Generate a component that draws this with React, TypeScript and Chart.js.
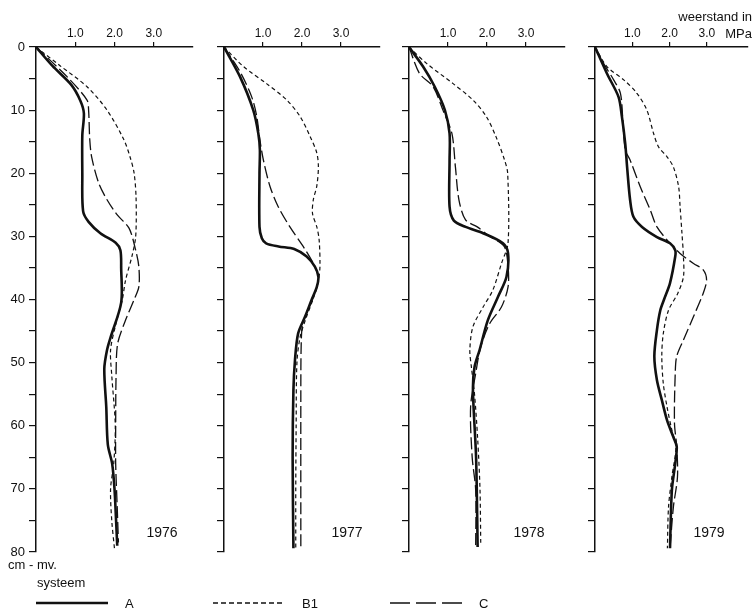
import React, { useEffect, useRef } from 'react';
import { Chart, registerables } from 'chart.js';

Chart.register(...registerables);

// ---------- data (depth in cm below surface, resistance in MPa) ----------
// 1976
const depth1976A = [0, 3, 6, 8.5, 10.5, 14, 20, 26, 27.7, 29.5, 31, 32.2, 35, 40.5, 46, 48, 51, 57, 63, 66, 70, 75, 79];
const mpa1976A = [0, 0.42, 0.9, 1.13, 1.22, 1.18, 1.18, 1.2, 1.34, 1.64, 2.03, 2.15, 2.17, 2.17, 1.9, 1.81, 1.74, 1.79, 1.83, 1.94, 2.0, 2.04, 2.07];
const depth1976B1 = [0, 3, 6.3, 10, 14.7, 17.5, 20, 24, 30, 33, 37, 40, 44, 48, 52, 60, 66, 70, 75, 79.5];
const mpa1976B1 = [0, 0.62, 1.3, 1.81, 2.24, 2.4, 2.5, 2.55, 2.54, 2.45, 2.28, 2.2, 2.03, 1.9, 1.93, 2.02, 1.98, 1.9, 1.93, 2.0];
const depth1976C = [0, 4.7, 8.4, 10, 14.7, 17.5, 21.6, 24.2, 26.6, 28.7, 32.2, 34.8, 38, 40, 43.3, 47, 52, 60, 66, 73, 78.5];
const mpa1976C = [0, 0.79, 1.3, 1.34, 1.37, 1.42, 1.6, 1.81, 2.07, 2.37, 2.54, 2.62, 2.62, 2.5, 2.28, 2.08, 2.04, 2.03, 2.03, 2.07, 2.1];

// 1977
const depth1977A = [0, 4.7, 10, 13.7, 16.3, 20, 28.5, 30.3, 31.1, 31.6, 32, 33.2, 34.8, 36.4, 38, 40, 42.7, 45.4, 49.6, 54.4, 65, 79.4];
const mpa1977A = [0, 0.41, 0.75, 0.88, 0.92, 0.91, 0.91, 0.97, 1.08, 1.4, 1.8, 2.12, 2.33, 2.42, 2.38, 2.25, 2.08, 1.9, 1.82, 1.78, 1.76, 1.78];
const depth1977B1 = [0, 3.1, 5.8, 8.4, 11, 14.2, 16.8, 19, 22, 24.2, 26.4, 28.5, 30.6, 34.8, 37, 40, 43, 46, 50, 60, 70, 79.4];
const mpa1977B1 = [0, 0.5, 1.09, 1.61, 1.95, 2.21, 2.38, 2.42, 2.38, 2.29, 2.27, 2.38, 2.44, 2.46, 2.42, 2.28, 2.1, 1.95, 1.87, 1.85, 1.84, 1.84];
const depth1977C = [0, 3.9, 7.9, 11, 14.7, 17.9, 22.1, 25.3, 28.5, 31.6, 34.3, 36.4, 38.5, 41, 43.8, 47, 55, 79.4];
const mpa1977C = [0, 0.41, 0.71, 0.84, 0.92, 1.01, 1.18, 1.39, 1.69, 2.03, 2.29, 2.42, 2.36, 2.2, 2.02, 1.98, 1.97, 1.97];

// 1978
const depth1978A = [0, 3.1, 6.3, 10, 13.7, 18, 25.3, 27.5, 28.5, 29.5, 31.1, 32.7, 36.4, 39.6, 43.3, 48, 50.7, 54.4, 65, 79.2];
const mpa1978A = [0, 0.36, 0.66, 0.92, 1.04, 1.04, 1.04, 1.15, 1.45, 1.9, 2.41, 2.54, 2.5, 2.28, 2.02, 1.81, 1.68, 1.64, 1.72, 1.76];
const depth1978B1 = [0, 2.6, 5.8, 8.4, 11, 14.2, 17.9, 20, 31, 34.3, 38.5, 41.2, 44.3, 48, 50.7, 55, 62, 70, 79];
const mpa1978B1 = [0, 0.45, 1.13, 1.64, 1.98, 2.23, 2.45, 2.53, 2.54, 2.37, 2.15, 1.9, 1.64, 1.56, 1.6, 1.68, 1.76, 1.82, 1.84];
const depth1978C = [0, 4.2, 6.3, 10, 13.7, 19, 24.2, 27.4, 28.5, 29.8, 31.6, 34.8, 38, 41.2, 43.8, 47.5, 51.7, 57, 65, 70.2, 79.2];
const mpa1978C = [0, 0.27, 0.62, 0.87, 1.1, 1.19, 1.28, 1.45, 1.75, 2.02, 2.44, 2.54, 2.54, 2.37, 2.07, 1.84, 1.71, 1.58, 1.62, 1.71, 1.71];

// 1979
const depth1979A = [0, 4.2, 7.9, 11, 15.3, 19, 24.2, 26.9, 28.5, 30.1, 31.1, 32.2, 33.2, 37.4, 40, 41.7, 44.8, 49, 52.8, 55.9, 59.1, 61.8, 63.3, 66, 70.2, 79.4];
const mpa1979A = [0, 0.32, 0.63, 0.72, 0.81, 0.86, 0.94, 1.03, 1.26, 1.66, 2.01, 2.15, 2.15, 2.01, 1.85, 1.75, 1.66, 1.59, 1.66, 1.79, 1.93, 2.1, 2.19, 2.15, 2.06, 2.01];
const depth1979B1 = [0, 3.1, 5.2, 7.3, 10, 13.7, 15.8, 17.4, 19, 22.1, 25.3, 29.5, 33.2, 36.4, 39, 41.7, 45.4, 49, 53.3, 57, 60.7, 63.3, 68.1, 72.9, 79.4];
const mpa1979B1 = [0, 0.32, 0.77, 1.12, 1.39, 1.57, 1.7, 1.93, 2.1, 2.24, 2.28, 2.33, 2.37, 2.37, 2.22, 1.97, 1.83, 1.79, 1.83, 1.93, 2.06, 2.17, 2.06, 1.97, 1.94];
const depth1979C = [0, 2.6, 5.2, 7.3, 11, 16.3, 17.9, 22.1, 25.8, 28.5, 31.1, 32.7, 34.3, 35.3, 36.9, 39, 42.7, 46.4, 49, 51.7, 59.6, 63.3, 68.1, 72.9, 79.4];
const mpa1979C = [0, 0.23, 0.5, 0.68, 0.74, 0.81, 0.94, 1.21, 1.48, 1.66, 2.01, 2.28, 2.64, 2.9, 2.99, 2.9, 2.64, 2.37, 2.19, 2.15, 2.13, 2.19, 2.21, 2.1, 2.01];

const xTickValues = [1, 2, 3];
const depthTicks = [0, 5, 10, 15, 20, 25, 30, 35, 40, 45, 50, 55, 60, 65, 70, 75, 80];
const seriesNames = ['A', 'B1', 'C'];

// ---------- styling ----------
const INK = '#111111';
const FONT = '"Liberation Sans", Arial, Helvetica, sans-serif';
const W = 756;
const H = 610;
const AREA_TOP = 47;
const AREA_BOTTOM = 552;

const seriesStyle: Record<string, any> = {
  A: { borderWidth: 2.6, borderDash: [] },
  B1: { borderWidth: 1.2, borderDash: [4, 3] },
  C: { borderWidth: 1.3, borderDash: [12, 4] },
};

type PanelDef = {
  year: string;
  left: number;
  right: number;
  xMax: number;
  yLabels: boolean;
  yearDx: number;
  series: [number[], number[]][];
  extras?: (ctx: CanvasRenderingContext2D) => void;
};

function legendItem(ctx: CanvasRenderingContext2D, x0: number, x1: number, y: number, name: string, label: string, dash: number[], width: number) {
  ctx.save();
  ctx.strokeStyle = INK;
  ctx.lineWidth = width;
  ctx.setLineDash(dash);
  ctx.beginPath();
  ctx.moveTo(x0, y);
  ctx.lineTo(x1, y);
  ctx.stroke();
  ctx.restore();
  ctx.font = `13px ${FONT}`;
  ctx.textAlign = 'left';
  ctx.textBaseline = 'middle';
  ctx.fillText(label, x1 + 17, y + 1);
}

const panels: PanelDef[] = [
  {
    year: '1976', left: 36, right: 193, xMax: 4.0, yLabels: true, yearDx: 126,
    series: [[depth1976A, mpa1976A], [depth1976B1, mpa1976B1], [depth1976C, mpa1976C]],
    extras: (ctx) => {
      ctx.font = `13px ${FONT}`;
      ctx.textAlign = 'left';
      ctx.textBaseline = 'alphabetic';
      ctx.fillText('cm - mv.', 8, 569);
      ctx.fillText('systeem', 37, 587);
      legendItem(ctx, 36, 108, 603, 'A', 'A', [], 2.6);
    },
  },
  {
    year: '1977', left: 224, right: 380, xMax: 4.0, yLabels: false, yearDx: 123,
    series: [[depth1977A, mpa1977A], [depth1977B1, mpa1977B1], [depth1977C, mpa1977C]],
    extras: (ctx) => legendItem(ctx, 213, 285, 603, 'B1', 'B1', [5, 3], 1.3),
  },
  {
    year: '1978', left: 409, right: 565, xMax: 4.0, yLabels: false, yearDx: 120,
    series: [[depth1978A, mpa1978A], [depth1978B1, mpa1978B1], [depth1978C, mpa1978C]],
    extras: (ctx) => legendItem(ctx, 390, 462, 603, 'C', 'C', [20, 6], 1.5),
  },
  {
    year: '1979', left: 595, right: 748, xMax: 4.1, yLabels: false, yearDx: 114,
    series: [[depth1979A, mpa1979A], [depth1979B1, mpa1979B1], [depth1979C, mpa1979C]],
    extras: (ctx) => {
      ctx.font = `13px ${FONT}`;
      ctx.textAlign = 'right';
      ctx.textBaseline = 'alphabetic';
      ctx.fillText('weerstand in', 752, 21);
      ctx.fillText('MPa', 752, 38);
    },
  },
];

function Panel({ def }: { def: PanelDef }) {
  const ref = useRef<HTMLCanvasElement | null>(null);

  useEffect(() => {
    if (!ref.current) return;
    const datasets = def.series.map(([depths, values], i) => {
      const name = seriesNames[i];
      return {
        label: name,
        data: depths.map((d, k) => ({ x: values[k], y: d })),
        borderColor: INK,
        backgroundColor: INK,
        borderWidth: seriesStyle[name].borderWidth,
        borderDash: seriesStyle[name].borderDash,
        pointRadius: 0,
        tension: 0.3,
        fill: false,
        borderCapStyle: 'butt' as const,
        borderJoinStyle: 'round' as const,
      };
    });

    const textPlugin = {
      id: 'panelTexts',
      afterDraw(chart: any) {
        const { ctx, chartArea } = chart;
        ctx.save();
        ctx.fillStyle = INK;
        ctx.font = `14px ${FONT}`;
        ctx.textAlign = 'center';
        ctx.textBaseline = 'middle';
        ctx.fillText(def.year, chartArea.left + def.yearDx, 533);
        if (def.extras) def.extras(ctx);
        ctx.restore();
      },
    };

    const chart = new Chart(ref.current, {
      type: 'line',
      data: { datasets },
      options: {
        animation: false,
        responsive: false,
        devicePixelRatio: 1,
        indexAxis: 'y',
        events: [],
        layout: {
          padding: {
            left: def.left - 30,
            right: W - def.right,
            top: AREA_TOP - 40,
            bottom: H - AREA_BOTTOM,
          },
        },
        plugins: {
          legend: { display: false },
          tooltip: { enabled: false },
          title: { display: false },
        },
        scales: {
          x: {
            type: 'linear',
            position: 'top',
            min: 0,
            max: def.xMax,
            afterBuildTicks: (scale: any) => {
              scale.ticks = xTickValues.map((v) => ({ value: v }));
            },
            afterFit: (scale: any) => {
              scale.height = 40;
            },
            ticks: {
              color: INK,
              font: { family: FONT, size: 12 },
              padding: 1,
              maxRotation: 0,
              callback: (v: any) => Number(v).toFixed(1),
            },
            grid: {
              drawOnChartArea: false,
              drawTicks: true,
              tickLength: 5,
              color: INK,
              lineWidth: 1.2,
            },
            border: { display: true, color: INK, width: 1.5 },
          },
          y: {
            type: 'linear',
            reverse: true,
            min: 0,
            max: 80,
            afterBuildTicks: (scale: any) => {
              scale.ticks = depthTicks.map((v) => ({ value: v }));
            },
            afterFit: (scale: any) => {
              scale.width = 30;
            },
            ticks: {
              color: INK,
              font: { family: FONT, size: 13 },
              padding: 4,
              callback: (v: any) => (def.yLabels && Number(v) % 10 === 0 ? String(v) : ''),
            },
            grid: {
              drawOnChartArea: false,
              drawTicks: true,
              tickLength: 7,
              color: INK,
              lineWidth: 1.2,
            },
            border: { display: true, color: INK, width: 1.5 },
          },
        },
      },
      plugins: [textPlugin],
    } as any);

    return () => chart.destroy();
  }, [def]);

  return (
    <canvas
      ref={ref}
      width={W}
      height={H}
      style={{ position: 'absolute', left: 0, top: 0, width: W, height: H }}
    />
  );
}

export default function App() {
  return (
    <div style={{ position: 'absolute', left: 0, top: 0, width: W, height: H, background: '#ffffff', overflow: 'hidden' }}>
      {panels.map((p) => (
        <Panel key={p.year} def={p} />
      ))}
    </div>
  );
}
